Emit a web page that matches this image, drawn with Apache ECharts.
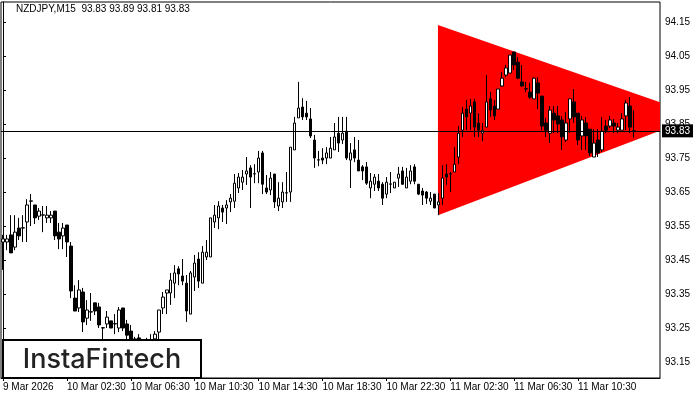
<!DOCTYPE html>
<html><head><meta charset="utf-8">
<script src="https://cdn.jsdelivr.net/npm/echarts@6/dist/echarts.min.js"></script>
<style>html,body{margin:0;padding:0;background:#fff}#c{width:700px;height:400px}</style>
</head><body><div id="c"></div>
<script>
const symbol = 'NZDJPY';
const timeframe = 'M15';
const opens = [
93.503,93.503,93.524,93.488,93.544,93.544,93.562,93.623,93.612,93.579,
93.582,93.574,93.574,93.594,93.532,93.521,93.553,93.491,93.338,93.309,
93.356,93.279,93.297,93.324,93.312,93.250,93.262,93.271,93.262,93.250,
93.309,93.262,93.241,93.218,93.221,93.205,93.200,93.205,93.218,93.238,
93.309,93.353,93.353,93.382,93.424,93.403,93.382,93.291,93.400,93.453,
93.382,93.459,93.459,93.562,93.574,93.603,93.603,93.621,93.623,93.662,
93.679,93.703,93.721,93.703,93.709,93.765,93.662,93.656,93.703,93.609,
93.621,93.647,93.650,93.774,93.868,93.900,93.882,93.865,93.803,93.744,
93.750,93.750,93.750,93.774,93.823,93.803,93.829,93.744,93.774,93.744,
93.724,93.724,93.662,93.673,93.682,93.673,93.644,93.673,93.662,93.691,
93.712,93.662,93.682,93.724,93.673,93.653,93.650,93.623,93.644,93.612,
93.632,93.703,93.703,93.709,93.753,93.832,93.894,93.882,93.915,93.853,
93.823,93.841,93.924,93.903,93.894,93.962,93.994,94.000,94.062,94.032,
93.974,93.953,93.944,93.924,93.971,93.932,93.853,93.823,93.882,93.874,
93.862,93.803,93.865,93.915,93.882,93.815,93.853,93.835,93.753,93.803,
93.774,93.844,93.844,93.853,93.832,93.832,93.874,93.903,93.83
];
const closes = [
93.512,93.512,93.471,93.532,93.521,93.545,93.612,93.624,93.574,93.594,
93.583,93.582,93.582,93.521,93.512,93.544,93.503,93.359,93.300,93.362,
93.268,93.303,93.298,93.300,93.259,93.251,93.282,93.250,93.263,93.303,
93.250,93.229,93.218,93.200,93.205,93.195,93.212,93.215,93.232,93.303,
93.341,93.362,93.391,93.412,93.409,93.388,93.300,93.412,93.441,93.388,
93.473,93.473,93.574,93.582,93.609,93.591,93.612,93.632,93.676,93.694,
93.694,93.712,93.694,93.704,93.750,93.673,93.650,93.691,93.621,93.632,
93.650,93.648,93.782,93.853,93.897,93.871,93.871,93.815,93.750,93.745,
93.744,93.765,93.779,93.812,93.794,93.823,93.750,93.765,93.750,93.712,
93.712,93.676,93.682,93.694,93.662,93.632,93.679,93.674,93.679,93.703,
93.673,93.694,93.712,93.682,93.644,93.641,93.632,93.632,93.603,93.621,
93.691,93.694,93.704,93.732,93.823,93.882,93.871,93.903,93.841,93.832,
93.832,93.915,93.891,93.874,93.953,93.985,94.015,94.053,94.024,93.985,
93.962,93.954,93.929,93.985,93.941,93.844,93.832,93.891,93.862,93.850,
93.812,93.853,93.924,93.871,93.803,93.862,93.815,93.765,93.794,93.765,
93.829,93.832,93.862,93.844,93.841,93.865,93.912,93.841,93.83
];
const lows = [
93.421,93.479,93.471,93.479,93.509,93.503,93.503,93.550,93.556,93.568,
93.532,93.559,93.559,93.509,93.482,93.482,93.459,93.338,93.300,93.297,
93.238,93.259,93.271,93.288,93.250,93.209,93.250,93.250,93.232,93.238,
93.241,93.215,93.200,93.179,93.185,93.180,93.185,93.190,93.200,93.200,
93.291,93.291,93.318,93.338,93.376,93.376,93.268,93.291,93.359,93.368,
93.382,93.450,93.459,93.544,93.541,93.562,93.556,93.591,93.603,93.647,
93.656,93.671,93.603,93.676,93.676,93.644,93.644,93.641,93.603,93.594,
93.603,93.621,93.621,93.774,93.868,93.862,93.862,93.809,93.721,93.726,
93.732,93.732,93.750,93.774,93.768,93.791,93.744,93.662,93.738,93.712,
93.685,93.671,93.632,93.653,93.653,93.612,93.632,93.647,93.662,93.665,
93.671,93.662,93.673,93.673,93.641,93.612,93.615,93.612,93.603,93.582,
93.612,93.671,93.650,93.709,93.732,93.812,93.832,93.832,93.812,93.812,
93.800,93.841,93.871,93.862,93.894,93.959,93.988,94.000,94.009,93.982,
93.959,93.944,93.924,93.924,93.894,93.832,93.812,93.794,93.823,93.823,
93.774,93.797,93.823,93.853,93.788,93.774,93.774,93.756,93.753,93.753,
93.768,93.823,93.838,93.823,93.823,93.832,93.832,93.823,93.81
];
const highs = [
93.524,93.524,93.582,93.582,93.574,93.582,93.629,93.644,93.612,93.603,
93.609,93.609,93.594,93.594,93.559,93.559,93.553,93.503,93.376,93.391,
93.368,93.332,93.353,93.324,93.324,93.253,93.300,93.271,93.291,93.312,
93.309,93.274,93.259,93.224,93.232,93.215,93.221,93.232,93.241,93.303,
93.356,93.362,93.412,93.435,93.432,93.453,93.406,93.418,93.465,93.473,
93.491,93.509,93.574,93.612,93.623,93.612,93.626,93.644,93.703,93.706,
93.715,93.753,93.729,93.732,93.771,93.771,93.700,93.709,93.703,93.679,
93.679,93.709,93.782,93.871,93.974,93.926,93.918,93.897,93.818,93.771,
93.779,93.782,93.812,93.853,93.871,93.871,93.871,93.794,93.812,93.803,
93.729,93.738,93.706,93.703,93.703,93.679,93.694,93.709,93.679,93.724,
93.724,93.721,93.729,93.732,93.673,93.662,93.653,93.650,93.644,93.647,
93.729,93.732,93.709,93.782,93.844,93.900,93.921,93.924,93.924,93.882,
93.853,93.994,93.944,93.921,93.953,94.003,94.024,94.053,94.062,94.047,
94.024,93.974,93.971,93.988,93.988,93.932,93.868,93.903,93.903,93.903,
93.874,93.885,93.924,93.953,93.882,93.874,93.871,93.835,93.835,93.835,
93.871,93.862,93.874,93.865,93.853,93.882,93.921,93.929,93.89
];
const slotCount = 165;
const tickStep = 16;
const tickLabels = ['9 Mar 2026','10 Mar 02:30','10 Mar 06:30','10 Mar 10:30','10 Mar 14:30','10 Mar 18:30','10 Mar 22:30','11 Mar 02:30','11 Mar 06:30','11 Mar 10:30'];
const yTicks = [93.15,93.25,93.35,93.45,93.55,93.65,93.75,93.85,93.95,94.05,94.15];
const yMin = 93.103, yMax = 94.209;
// triangle pattern: left edge index, top price, bottom price / apex index, apex price
const triLeft = [108.9, 94.141, 93.582];
const triApex = [174.25, 93.874];

const font = 'Liberation Sans, Arial, sans-serif';
const startTime = Date.UTC(2026, 2, 9, 22, 30);
const categories = [];
for (let i = 0; i < slotCount; i++) {
  const d = new Date(startTime + i * 900000);
  categories.push(d.toISOString().slice(0, 16));
}
const ohlc = opens.map((o, i) => [o, closes[i], lows[i], highs[i]]);
const last = ohlc.length - 1;
const fmt = v => v.toFixed(2);
const titleText = symbol + ',' + timeframe + '  ' + fmt(opens[last]) + ' ' + fmt(highs[last]) + ' ' + fmt(lows[last]) + ' ' + fmt(closes[last]);
const showTick = idx => idx % tickStep === 0 && idx / tickStep < tickLabels.length;

function clipRight(pts, xmax) {
  const out = [];
  for (let i = 0; i < pts.length; i++) {
    const a = pts[i], b = pts[(i + 1) % pts.length];
    const ain = a[0] <= xmax, bin = b[0] <= xmax;
    if (ain) out.push(a);
    if (ain !== bin) {
      const t = (xmax - a[0]) / (b[0] - a[0]);
      out.push([xmax, a[1] + t * (b[1] - a[1])]);
    }
  }
  return out;
}

const chart = echarts.init(document.getElementById('c'), null, {renderer: 'canvas'});
chart.setOption({
  animation: false,
  backgroundColor: '#fff',
  title: {text: titleText, left: 16, top: 4, padding: 0,
    textStyle: {fontSize: 10, fontWeight: 'normal', color: '#000', fontFamily: font}},
  grid: {left: 1, top: 2, right: 40, bottom: 22, show: true, borderColor: '#000', borderWidth: 1, backgroundColor: 'transparent'},
  xAxis: [{
    type: 'category', data: categories, boundaryGap: true,
    axisLine: {show: true, lineStyle: {color: '#000', width: 1}},
    axisTick: {show: true, alignWithLabel: true, interval: showTick, length: 3, lineStyle: {color: '#000'}},
    axisLabel: {interval: showTick, formatter: (v, i) => tickLabels[i / tickStep], align: 'left', margin: 4,
      fontSize: 10, color: '#000', fontFamily: font},
    splitLine: {show: false}
  }, {
    type: 'value', min: -0.5, max: slotCount - 0.5, show: false
  }],
  yAxis: {
    type: 'value', position: 'right', min: yMin, max: yMax, scale: true,
    axisLine: {show: true, lineStyle: {color: '#000'}},
    axisTick: {show: true, length: 3, customValues: yTicks, lineStyle: {color: '#000'}},
    axisLabel: {customValues: yTicks, formatter: v => v.toFixed(2), margin: 5, fontSize: 10, color: '#000', fontFamily: font},
    splitLine: {show: false}
  },
  series: [{
    type: 'custom', xAxisIndex: 1, yAxisIndex: 0, z: 1, silent: true,
    data: [[triLeft[0], triLeft[1], triLeft[2], triApex[0], triApex[1]]],
    encode: {x: [0, 3], y: [1, 2, 4]},
    renderItem: function (params, api) {
      const p1 = api.coord([api.value(0), api.value(1)]);
      const p2 = api.coord([api.value(3), api.value(4)]);
      const p3 = api.coord([api.value(0), api.value(2)]);
      const cs = params.coordSys;
      const pts = clipRight([p1, p2, p3], cs.x + cs.width);
      return {type: 'polygon', shape: {points: pts}, style: {fill: '#ff0000'}};
    }
  }, {
    type: 'candlestick', xAxisIndex: 0, yAxisIndex: 0, z: 3, barWidth: 3,
    data: ohlc,
    itemStyle: {color: '#fff', color0: '#000', borderColor: '#000', borderColor0: '#000', borderWidth: 1},
    markLine: {
      symbol: ['none', 'none'], silent: true, animation: false,
      lineStyle: {color: '#000', width: 1, type: 'solid'},
      label: {show: true, position: 'end', formatter: p => fmt(p.value), color: '#fff', backgroundColor: '#000',
        padding: [2, 3, 1, 3], fontSize: 10, fontFamily: font, distance: 2},
      data: [{yAxis: closes[last]}]
    }
  }],
  graphic: [
    {type: 'rect', shape: {x: 3, y: 340, width: 198, height: 38}, style: {fill: '#fff', stroke: '#000', lineWidth: 2}, z: 100},
    {type: 'text', x: 102, y: 360, z: 101,
      style: {text: 'InstaFintech', fontSize: 27, fontWeight: 500, fontFamily: 'Inter, Roboto, sans-serif', fill: '#222', align: 'center', verticalAlign: 'middle'}}
  ]
});
</script></body></html>
